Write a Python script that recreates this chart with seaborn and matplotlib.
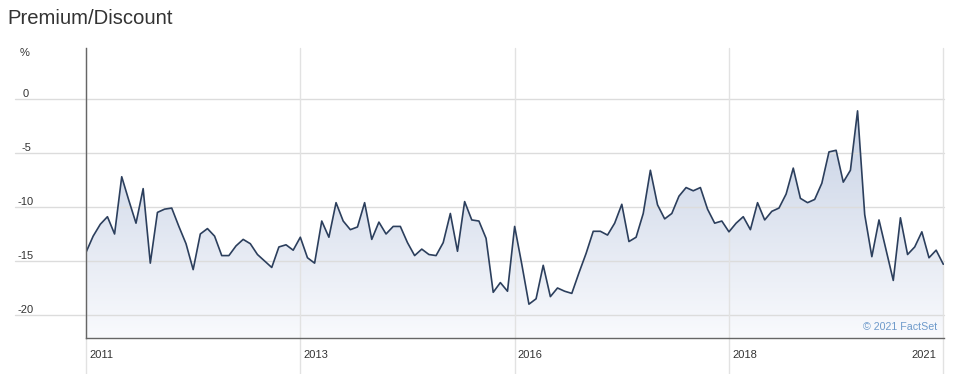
import numpy as np
import pandas as pd
import matplotlib
matplotlib.use("Agg")
import matplotlib.pyplot as plt
import seaborn as sns
from matplotlib import transforms as mtrans
from matplotlib.path import Path
from matplotlib.colors import LinearSegmentedColormap

# ---- data ----
premium_discount = [
    -14.2, -12.7, -11.6, -10.9, -12.5, -7.2, -9.4, -11.5, -8.3, -15.2,
    -10.5, -10.2, -10.1, -11.8, -13.4, -15.8, -12.5, -12.0, -12.7, -14.5,
    -14.5, -13.6, -13.0, -13.4, -14.4, -15.0, -15.6, -13.7, -13.5, -14.0,
    -12.8, -14.7, -15.2, -11.3, -12.8, -9.6, -11.3, -12.1, -11.85, -9.6,
    -13.0, -11.4, -12.5, -11.8, -11.8, -13.3, -14.5, -13.9, -14.4, -14.5,
    -13.3, -10.6, -14.1, -9.5, -11.2, -11.3, -12.9, -17.9, -17.0, -17.8,
    -11.8, -15.3, -19.0, -18.5, -15.4, -18.3, -17.5, -17.8, -18.0, -16.1,
    -14.3, -12.25, -12.25, -12.6, -11.5, -9.75, -13.2, -12.8, -10.6, -6.6,
    -9.8, -11.1, -10.6, -9.0, -8.2, -8.5, -8.2, -10.2, -11.5, -11.3,
    -12.3, -11.5, -10.9, -12.1, -9.6, -11.2, -10.4, -10.1, -8.8, -6.4,
    -9.2, -9.6, -9.3, -7.8, -4.9, -4.75, -7.7, -6.6, -1.1, -10.7,
    -14.6, -11.2, -14.0, -16.8, -11.0, -14.4, -13.7, -12.3, -14.7, -14.0,
    -15.3,
]
period_index = list(range(len(premium_discount)))
x_tick_positions = [0, 30, 60, 90, 120]
x_tick_labels = ["2011", "2013", "2016", "2018", "2021"]
y_ticks = [0, -5, -10, -15, -20]

df = pd.DataFrame({"idx": period_index, "val": premium_discount})

sns.set_theme(style="white")
plt.rcParams["font.family"] = ["Liberation Sans", "DejaVu Sans"]

W, H = 954, 374
fig = plt.figure(figsize=(W / 100, H / 100), dpi=100)
ax_l, ax_r, ax_b, ax_t = 86, 944, 338, 48
ax = fig.add_axes([ax_l / W, (H - ax_b) / H, (ax_r - ax_l) / W, (ax_b - ax_t) / H])
ymin, ymax = -22.13, 4.72
xmax = 120.1
ax.set_xlim(0, xmax)
ax.set_ylim(ymin, ymax)

# gradient fill under the line
cmap = LinearSegmentedColormap.from_list("fill", ["#f9fafd", "#c4cfe3"])
grad = np.linspace(0, 1, 256).reshape(-1, 1)
im = ax.imshow(grad, extent=[0, xmax, ymin, 0], origin="lower", aspect="auto",
               cmap=cmap, zorder=1, interpolation="bilinear")
verts = ([(period_index[0], ymin)] + list(zip(period_index, premium_discount))
         + [(period_index[-1], ymin), (period_index[0], ymin)])
im.set_clip_path(Path(verts, closed=True), transform=ax.transData)

# gridlines
hb = mtrans.blended_transform_factory(ax.transAxes, ax.transData)
left_ext = (15 - ax_l) / (ax_r - ax_l)
for yv in y_ticks:
    ax.plot([left_ext, 1], [yv, yv], transform=hb, color="#dcdcdc", lw=1,
            clip_on=False, zorder=2)
vb = mtrans.blended_transform_factory(ax.transData, ax.transAxes)
bottom_ext = -(H - ax_b) / (ax_b - ax_t)
for xv in x_tick_positions:
    ax.plot([xv, xv], [bottom_ext, 1], transform=vb, color="#e2e2e2", lw=1,
            clip_on=False, zorder=2)

sns.lineplot(data=df, x="idx", y="val", ax=ax, color="#2c3f5d", linewidth=1.2, zorder=3)

# axes styling
for s in ["top", "right"]:
    ax.spines[s].set_visible(False)
for s in ["left", "bottom"]:
    ax.spines[s].set_color("#666666")
    ax.spines[s].set_linewidth(1.0)
    ax.spines[s].set_zorder(4)
ax.set_xlabel("")
ax.set_ylabel("")
ax.set_xticks([])
ax.set_yticks(y_ticks)
ax.set_yticklabels([str(v) for v in y_ticks])
ax.tick_params(axis="y", length=0, pad=(ax_l - 26) * 0.72, labelsize=8, labelcolor="#333333")
for lab in ax.get_yticklabels():
    lab.set_horizontalalignment("center")
    lab.set_verticalalignment("bottom")

# x labels
xlab_y = -(355 - ax_b) / (ax_b - ax_t)
for pos, lab in zip(x_tick_positions, x_tick_labels):
    if pos == x_tick_positions[-1]:
        tr = vb + mtrans.ScaledTranslation(-7 / 100, 0, fig.dpi_scale_trans)
        ha = "right"
    else:
        tr = vb + mtrans.ScaledTranslation(3 / 100, 0, fig.dpi_scale_trans)
        ha = "left"
    ax.text(pos, xlab_y, lab, transform=tr, ha=ha, va="center", fontsize=8,
            color="#333333", clip_on=False)

# texts
fig.text(7 / W, 1 - 18 / H, "Premium/Discount", fontsize=14.6, va="center",
         ha="left", color="#333333")
fig.text(25 / W, 1 - 53 / H, "%", fontsize=8, va="center", ha="center", color="#333333")
ax.text((937 - ax_l) / (ax_r - ax_l), (ax_b - 327) / (ax_b - ax_t), "© 2021 FactSet",
        transform=ax.transAxes, ha="right", va="center", fontsize=7.7,
        color="#6e9acb", zorder=5)

fig.savefig("out.png", dpi=100, facecolor="white")
